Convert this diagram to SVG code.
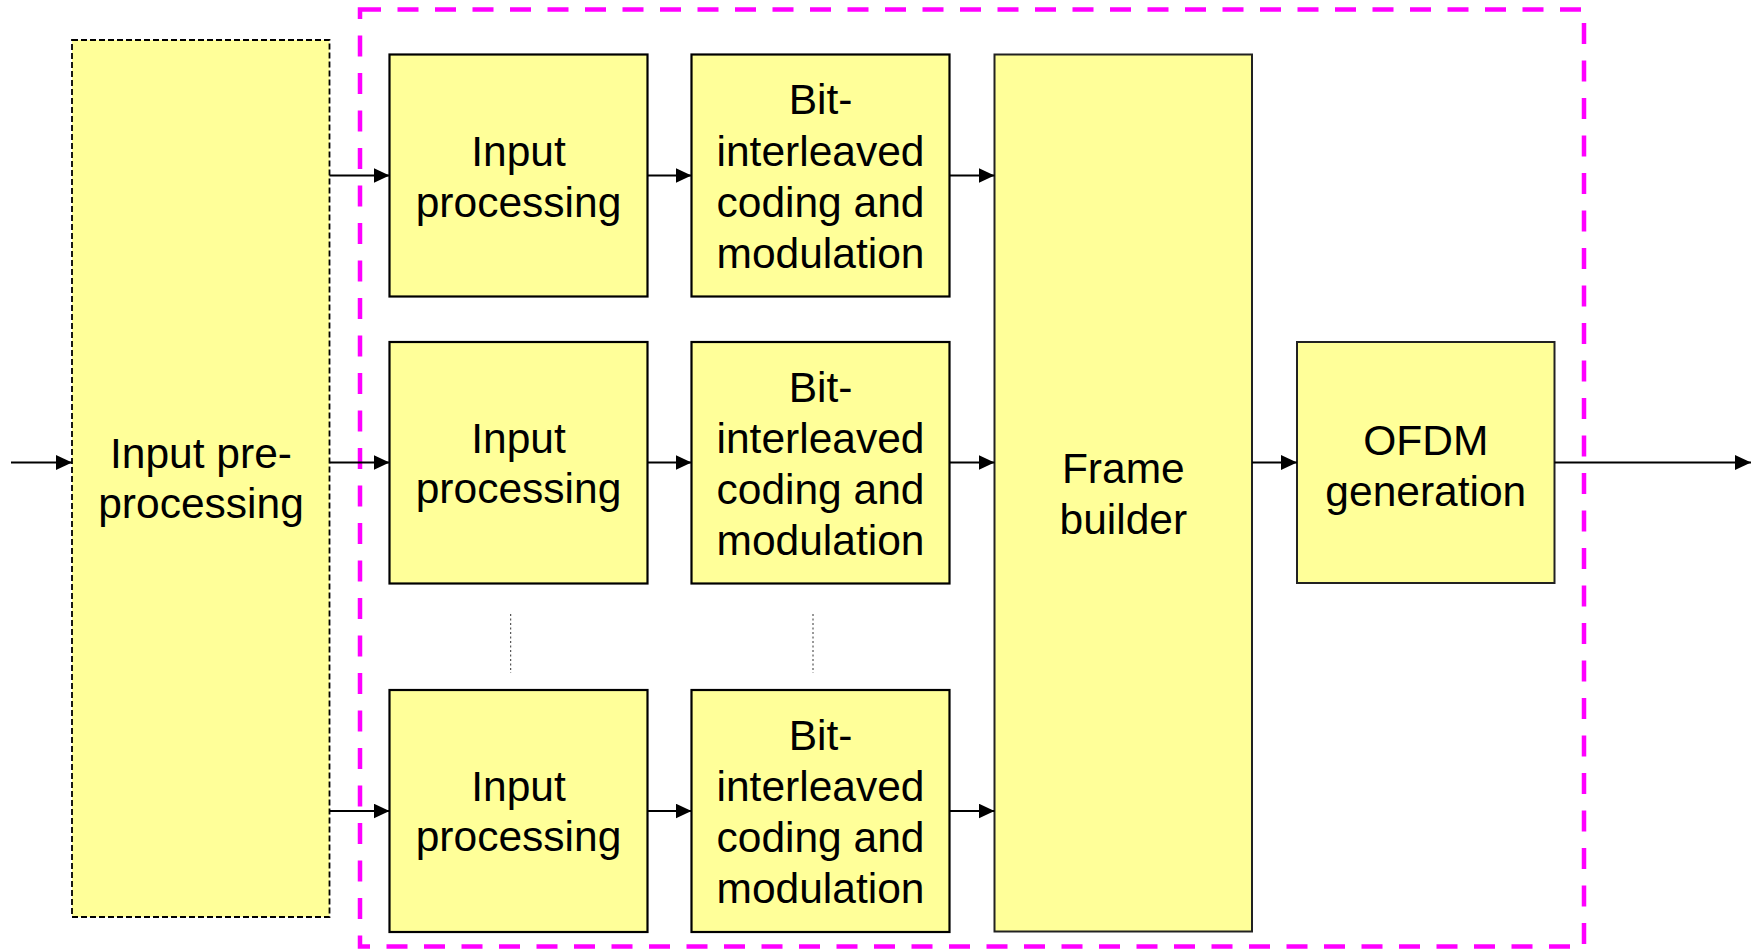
<svg xmlns="http://www.w3.org/2000/svg" width="1758" height="950" viewBox="0 0 1758 950">
<defs>
<marker id="ah" markerUnits="userSpaceOnUse" markerWidth="16" markerHeight="15" refX="16" refY="7.5" orient="auto">
<path d="M0,0 L16,7.5 L0,15 z" fill="#000"/>
</marker>
<style>
.box{fill:#FFFF99;stroke:#000;stroke-width:2.2}
.box2{fill:#FFFF99;stroke:#222;stroke-width:2}
.pre{fill:#FFFF99;stroke:#000;stroke-width:1.8;stroke-dasharray:6 3}
.t{font-family:"Liberation Sans",Arial,sans-serif;font-size:42.5px;fill:#000;text-anchor:middle}
.c{fill:none;stroke:#000;stroke-width:2.2;marker-end:url(#ah)}
.dot{fill:none;stroke:#333;stroke-width:1;stroke-dasharray:2 2.5}
</style>
</defs>
<rect width="1758" height="950" fill="#fff"/>
<g id="pre">
<rect class="pre" x="72" y="40" width="257.5" height="877"/>
<text class="t" x="201" y="467.5">Input pre-</text>
<text class="t" x="201" y="517.5">processing</text>
</g>
<g id="group">
<rect x="360" y="9.5" width="1224" height="937" fill="none" stroke="#FF00FF" stroke-width="4.5" stroke-dasharray="21 16.5"/>
</g>
<g id="ip1">
<rect class="box" x="389.5" y="54.5" width="258" height="242"/>
<text class="t" x="518.5" y="165.7">Input</text>
<text class="t" x="518.5" y="216.7">processing</text>
</g>
<g id="ip2">
<rect class="box" x="389.5" y="342" width="258" height="241.5"/>
<text class="t" x="518.5" y="452.6">Input</text>
<text class="t" x="518.5" y="503.3">processing</text>
</g>
<g id="ip3">
<rect class="box" x="389.5" y="690" width="258" height="242"/>
<text class="t" x="518.5" y="800.7">Input</text>
<text class="t" x="518.5" y="851.2">processing</text>
</g>
<g id="bicm1">
<rect class="box" x="691.5" y="54.5" width="258" height="242"/>
<text class="t" x="820.5" y="114.3">Bit-</text>
<text class="t" x="820.5" y="165.7">interleaved</text>
<text class="t" x="820.5" y="217.2">coding and</text>
<text class="t" x="820.5" y="268.3">modulation</text>
</g>
<g id="bicm2">
<rect class="box" x="691.5" y="342" width="258" height="241.5"/>
<text class="t" x="820.5" y="401.5">Bit-</text>
<text class="t" x="820.5" y="452.5">interleaved</text>
<text class="t" x="820.5" y="503.8">coding and</text>
<text class="t" x="820.5" y="555">modulation</text>
</g>
<g id="bicm3">
<rect class="box" x="691.5" y="690" width="258" height="242"/>
<text class="t" x="820.5" y="749.5">Bit-</text>
<text class="t" x="820.5" y="800.5">interleaved</text>
<text class="t" x="820.5" y="851.7">coding and</text>
<text class="t" x="820.5" y="902.5">modulation</text>
</g>
<g id="framebuilder">
<rect class="box2" x="994.5" y="54.5" width="257.5" height="877"/>
<text class="t" x="1123.3" y="483.3">Frame</text>
<text class="t" x="1123.3" y="534">builder</text>
</g>
<g id="ofdm">
<rect class="box2" x="1297" y="342" width="257.5" height="241"/>
<text class="t" x="1425.8" y="454.8">OFDM</text>
<text class="t" x="1425.8" y="505.7">generation</text>
</g>
<g id="connectors">
<path class="c" d="M11,462.5 H72"/>
<path class="c" d="M329.5,175.5 H389.5"/>
<path class="c" d="M329.5,462.5 H389.5"/>
<path class="c" d="M329.5,811 H389.5"/>
<path class="c" d="M647.5,175.5 H691.5"/>
<path class="c" d="M647.5,462.5 H691.5"/>
<path class="c" d="M647.5,811 H691.5"/>
<path class="c" d="M949.5,175.5 H994.5"/>
<path class="c" d="M949.5,462.5 H994.5"/>
<path class="c" d="M949.5,811 H994.5"/>
<path class="c" d="M1252,462.5 H1297"/>
<path class="c" d="M1554.5,462.5 H1751"/>
<path class="dot" d="M510.7,614 V673"/>
<path class="dot" d="M813,614 V673"/>
</g>
</svg>
